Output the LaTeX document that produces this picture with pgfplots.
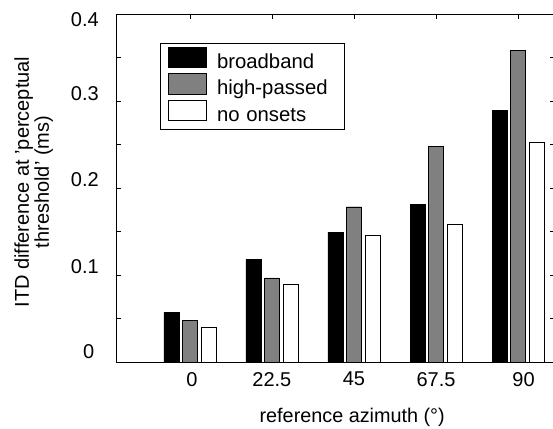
\documentclass[border=0pt]{standalone}
\usepackage{fontspec}
\setmainfont{Liberation Sans}
\usepackage{pgfplots}
\pgfplotsset{compat=1.18}
\definecolor{bargray}{RGB}{128,128,128}
\newcommand{\yl}[2]{\smash{\raisebox{#1}{#2}}}
\begin{document}
\begin{tikzpicture}
\begin{axis}[
  scale only axis, width=439pt, height=348pt,
  xmin=-0.9, xmax=4.45, ymin=0, ymax=0.4,
  ybar=3.5pt, bar width=15pt,
  xtick={0,1,2,3,4},
  xticklabels={\hspace{4pt}0, 22.5\hspace{6pt}, 45\hspace{5pt}, 67.5\hspace{8pt}, \hspace{11pt}90},
  ytick={0,0.1,0.2,0.3,0.4},
  yticklabels={\yl{3.7pt}{0\hspace{4.5pt}}, \yl{2pt}{0.1}, \yl{1.3pt}{0.2}, \yl{0pt}{0.3}, \yl{-13pt}{0.4}},
  minor ytick={0.05,0.15,0.25,0.35},
  /pgf/number format/assume math mode=true,
  tick align=inside, major tick length=5pt, minor tick length=5pt,
  tick style={black, line width=0.6pt},
  axis line style={line width=0.8pt},
  font=\fontsize{20}{22}\selectfont,
  yticklabel style={inner sep=0pt, xshift=-17pt, font=\fontsize{20}{22}\selectfont},
  xticklabel style={inner sep=0pt, anchor=north, yshift=-10pt, font=\fontsize{20}{22}\selectfont},
  xlabel={reference azimuth (°)},
  xlabel style={at={(axis description cs:0.538,0)}, anchor=north, inner sep=0pt, yshift=-46pt, font=\fontsize{19.8}{22}\selectfont},
  ylabel={ITD difference at 'perceptual\\threshold' (ms)},
  ylabel style={align=center, at={(axis description cs:-0.1875,0.517)}, anchor=center, inner sep=0pt, font=\fontsize{20}{20}\selectfont},
  legend style={at={(axis description cs:0.1002,0.9175)}, anchor=north west,
    draw=black, line width=0.8pt, font=\fontsize{20}{24}\selectfont,
    inner xsep=7.4pt, inner ysep=3.4pt, row sep=0pt, column sep=10.1pt,
    nodes={inner sep=0pt, text height=15pt, text depth=5pt, text width=120pt, font=\fontsize{20.3}{24}\selectfont}},
  legend cell align=left,
  mybar/.style={legend image code/.code={\draw[##1, line width=0.6pt] (0pt,-4.3pt) rectangle (38.6pt,16.2pt);}},
]
\addplot[fill=black, draw=black, mybar] coordinates {(0,0.0567) (1,0.118) (2,0.149) (3,0.1816) (4,0.289)};
\addplot[fill=bargray, draw=black, mybar] coordinates {(0,0.0475) (1,0.0966) (2,0.1785) (3,0.2475) (4,0.3586)};
\addplot[fill=white, draw=black, mybar] coordinates {(0,0.0395) (1,0.0897) (2,0.1456) (3,0.1586) (4,0.2532)};
\legend{broadband, high-passed, no onsets}
\end{axis}
\pgfresetboundingbox
\useasboundingbox (-116pt,-66pt) rectangle (437pt,362pt);
\end{tikzpicture}
\end{document}
